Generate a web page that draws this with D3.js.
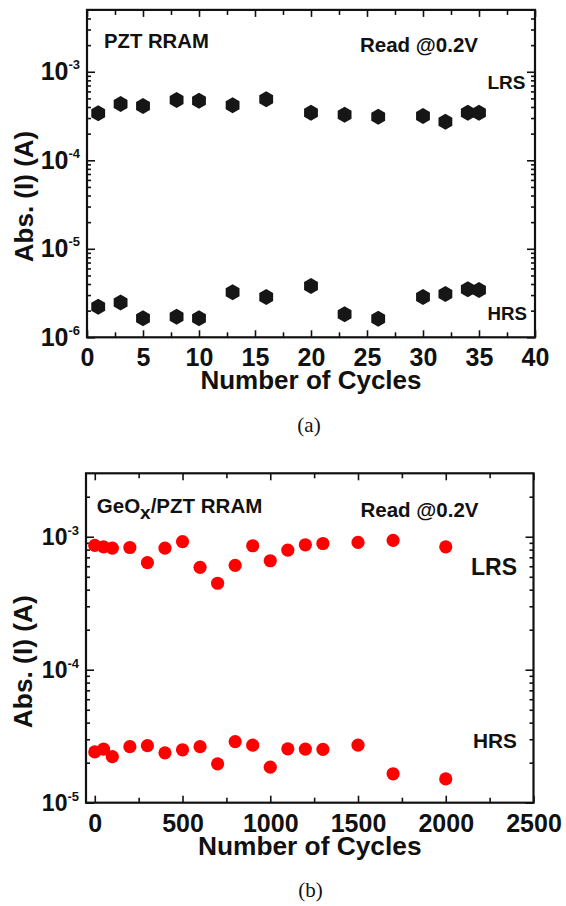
<!DOCTYPE html>
<html><head><meta charset="utf-8">
<script src="https://cdn.jsdelivr.net/npm/d3@7"></script>
<style>
body{margin:0;background:#fff}
svg{display:block}
text{font-family:"Liberation Sans",Arial,Helvetica,sans-serif;font-weight:bold;fill:#111}
</style>
</head><body><svg id="c" width="566" height="906"></svg>
<script>
// ---- data (a) PZT RRAM ----
const cyclesA = [1, 3, 5, 8, 10, 13, 16, 20, 23, 26, 30, 32, 34, 35];
const lrsA = [3.40e-4, 4.33e-4, 4.11e-4, 4.80e-4, 4.71e-4, 4.18e-4, 4.89e-4, 3.45e-4, 3.27e-4, 3.11e-4, 3.17e-4, 2.73e-4, 3.45e-4, 3.45e-4];
const hrsA = [2.22e-6, 2.48e-6, 1.64e-6, 1.71e-6, 1.64e-6, 3.22e-6, 2.85e-6, 3.80e-6, 1.82e-6, 1.62e-6, 2.85e-6, 3.08e-6, 3.49e-6, 3.42e-6];
// ---- data (b) GeOx/PZT RRAM ----
const cyclesB = [0, 50, 100, 200, 300, 400, 500, 600, 700, 800, 900, 1000, 1100, 1200, 1300, 1500, 1700, 2000];
const lrsB = [8.6e-4, 8.4e-4, 8.2e-4, 8.3e-4, 6.38e-4, 8.2e-4, 9.2e-4, 5.89e-4, 4.47e-4, 6.1e-4, 8.56e-4, 6.6e-4, 7.94e-4, 8.7e-4, 8.9e-4, 9.07e-4, 9.4e-4, 8.4e-4];
const hrsB = [2.41e-5, 2.53e-5, 2.22e-5, 2.64e-5, 2.69e-5, 2.37e-5, 2.5e-5, 2.64e-5, 1.96e-5, 2.88e-5, 2.71e-5, 1.85e-5, 2.54e-5, 2.53e-5, 2.52e-5, 2.71e-5, 1.65e-5, 1.51e-5];
// ---- ticks ----
const xTicksA = [0, 5, 10, 15, 20, 25, 30, 35, 40];
const xMinorA = [2.5, 7.5, 12.5, 17.5, 22.5, 27.5, 32.5, 37.5];
const xTicksB = [0, 500, 1000, 1500, 2000, 2500];
const xMinorB = [250, 750, 1250, 1750, 2250];
const yExpA = [-6, -5, -4, -3];
const yExpB = [-5, -4, -3];

const svg = d3.select("#c");

const hexagon = {
  draw(ctx, size) {
    const r = Math.sqrt(size / (3 * Math.sqrt(3) / 2));
    for (let i = 0; i < 6; i++) {
      const a = Math.PI / 3 * i - Math.PI / 2;
      const px = r * Math.cos(a), py = r * Math.sin(a);
      if (i) ctx.lineTo(px, py); else ctx.moveTo(px, py);
    }
    ctx.closePath();
  }
};

function logMinors(d0, d1) {
  const out = [];
  for (let e = Math.floor(Math.log10(d0)); e <= Math.ceil(Math.log10(d1)); e++)
    for (let m = 2; m <= 9; m++) {
      const v = m * Math.pow(10, e);
      if (v > d0 * 1.0001 && v < d1 * 0.9999) out.push(v);
    }
  return out;
}

function panel(cfg) {
  const g = svg.append("g");
  const x = d3.scaleLinear().domain(cfg.xDomain).range([cfg.left, cfg.right]);
  const y = d3.scaleLog().domain(cfg.yDomain).range([cfg.bottom, cfg.top]);
  const yMaj = cfg.yExp.map(e => Math.pow(10, e));
  const yMin = logMinors(cfg.yDomain[0], cfg.yDomain[1]);

  const style = sel => {
    sel.select(".domain").remove();
    sel.selectAll(".tick line").attr("stroke", "#111").attr("stroke-width", 1.6);
  };

  // bottom
  const bx = g.append("g").attr("transform", `translate(0,${cfg.bottom})`)
    .call(d3.axisBottom(x).tickValues(cfg.xTicks).tickSizeInner(-7).tickSizeOuter(0).tickPadding(cfg.xPad).tickFormat(d3.format("d")));
  style(bx);
  bx.selectAll("text").attr("fill", "#111").style("font-size", cfg.xFont + "px").attr("font-family", null);
  g.append("g").attr("transform", `translate(0,${cfg.bottom})`)
    .call(d3.axisBottom(x).tickValues(cfg.xMinor).tickSizeInner(-5).tickSizeOuter(0).tickFormat(""))
    .call(style);
  // top
  g.append("g").attr("transform", `translate(0,${cfg.top})`)
    .call(d3.axisTop(x).tickValues(cfg.xTicks).tickSizeInner(-7).tickSizeOuter(0).tickFormat(""))
    .call(style);
  g.append("g").attr("transform", `translate(0,${cfg.top})`)
    .call(d3.axisTop(x).tickValues(cfg.xMinor).tickSizeInner(-5).tickSizeOuter(0).tickFormat(""))
    .call(style);
  // left
  const ly = g.append("g").attr("transform", `translate(${cfg.left},0)`)
    .call(d3.axisLeft(y).tickValues(yMaj).tickSizeInner(-8).tickSizeOuter(0).tickPadding(7).tickFormat(""));
  style(ly);
  ly.selectAll(".tick text").each(function(d) {
    const t = d3.select(this).attr("fill", "#111").attr("font-family", null).style("font-size", cfg.yFont + "px");
    t.append("tspan").text("10");
    t.append("tspan").text(String(Math.round(Math.log10(d))).replace("-", "-"))
      .style("font-size", cfg.supFont + "px").attr("dy", -cfg.supRaise);
  });
  g.append("g").attr("transform", `translate(${cfg.left},0)`)
    .call(d3.axisLeft(y).tickValues(yMin).tickSizeInner(-4).tickSizeOuter(0).tickFormat(""))
    .call(style);
  // right
  g.append("g").attr("transform", `translate(${cfg.right},0)`)
    .call(d3.axisRight(y).tickValues(yMaj).tickSizeInner(-8).tickSizeOuter(0).tickFormat(""))
    .call(style);
  g.append("g").attr("transform", `translate(${cfg.right},0)`)
    .call(d3.axisRight(y).tickValues(yMin).tickSizeInner(-4).tickSizeOuter(0).tickFormat(""))
    .call(style);

  // frame
  g.append("rect").attr("x", cfg.left).attr("y", cfg.top)
    .attr("width", cfg.right - cfg.left).attr("height", cfg.bottom - cfg.top)
    .attr("fill", "none").attr("stroke", "#111").attr("stroke-width", 2.2);

  // data points
  const series = [cfg.lrs, cfg.hrs];
  series.forEach(vals => {
    const pts = cfg.cycles.map((c, i) => ({c, v: vals[i]}));
    if (cfg.marker === "hex") {
      g.append("g").selectAll("path").data(pts).join("path")
        .attr("transform", d => `translate(${x(d.c)},${y(d.v)})`)
        .attr("d", d3.symbol().type(hexagon).size(166))
        .attr("fill", "#161616");
    } else {
      g.append("g").selectAll("circle").data(pts).join("circle")
        .attr("cx", d => x(d.c)).attr("cy", d => y(d.v)).attr("r", 6.6)
        .attr("fill", "#ff0000");
    }
  });

  // axis titles
  g.append("text").attr("x", (cfg.left + cfg.right) / 2).attr("y", cfg.xTitleY)
    .attr("text-anchor", "middle").style("font-size", cfg.titleFont + "px").text("Number of Cycles");
  g.append("text").attr("transform", `translate(${cfg.yTitleX},${cfg.yTitleY}) rotate(-90)`)
    .attr("text-anchor", "middle").style("font-size", cfg.titleFont + "px").text("Abs. (I) (A)");
  return g;
}

const gA = panel({
  xDomain: [0, 40], yDomain: [1e-6, 5e-3], left: 87, right: 535, top: 9.9, bottom: 337.3,
  xTicks: xTicksA, xMinor: xMinorA, yExp: yExpA, cycles: cyclesA, lrs: lrsA, hrs: hrsA,
  marker: "hex", xFont: 25, xPad: 11, yFont: 25, supFont: 13, supRaise: 11,
  titleFont: 26, xTitleY: 389, yTitleX: 33, yTitleY: 196.5
});
gA.append("text").attr("x", 104).attr("y", 48.3).style("font-size", "20.3px").text("PZT RRAM");
gA.append("text").attr("x", 478).attr("y", 51.5).attr("text-anchor", "end").style("font-size", "20.5px").text("Read @0.2V");
gA.append("text").attr("x", 487.5).attr("y", 89.3).style("font-size", "19px").text("LRS");
gA.append("text").attr("x", 487.5).attr("y", 320).style("font-size", "18.7px").text("HRS");

const gB = panel({
  xDomain: [-50, 2500], yDomain: [1e-5, 3e-3], left: 86, right: 533.5, top: 473.3, bottom: 802.7,
  xTicks: xTicksB, xMinor: xMinorB, yExp: yExpB, cycles: cyclesB, lrs: lrsB, hrs: hrsB,
  marker: "circle", xFont: 25, xPad: 11.6, yFont: 23, supFont: 13, supRaise: 10,
  titleFont: 26.3, xTitleY: 855, yTitleX: 32, yTitleY: 661.7
});
const geo = gB.append("text").attr("x", 96.8).attr("y", 512.7).style("font-size", "20.5px");
geo.append("tspan").text("GeO");
geo.append("tspan").text("x").attr("dy", 6).style("font-size", "19px");
geo.append("tspan").text("/PZT RRAM").attr("dy", -6);
gB.append("text").attr("x", 478.5).attr("y", 516.7).attr("text-anchor", "end").style("font-size", "20.5px").text("Read @0.2V");
gB.append("text").attr("x", 471).attr("y", 575).style("font-size", "23px").text("LRS");
gB.append("text").attr("x", 473).attr("y", 747.7).style("font-size", "20.8px").text("HRS");

// captions
svg.append("text").attr("x", 309).attr("y", 432).attr("text-anchor", "middle")
  .style("font-family", "'Liberation Serif','Times New Roman',serif").style("font-weight", "normal").style("font-size", "21px").text("(a)");
svg.append("text").attr("x", 310.5).attr("y", 897).attr("text-anchor", "middle")
  .style("font-family", "'Liberation Serif','Times New Roman',serif").style("font-weight", "normal").style("font-size", "21px").text("(b)");
</script>
</body></html>
